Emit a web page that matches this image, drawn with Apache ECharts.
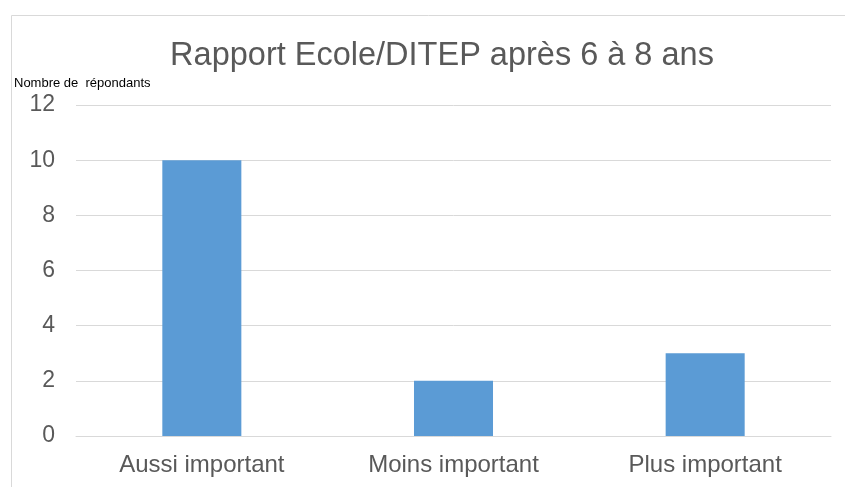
<!DOCTYPE html>
<html>
<head>
<meta charset="utf-8">
<script src="https://cdn.jsdelivr.net/npm/echarts@6/dist/echarts.min.js"></script>
<style>
  html, body { margin: 0; padding: 0; background: #fff; }
  #chart { width: 845px; height: 487px; }
</style>
</head>
<body>
<div id="chart"></div>
<script>
// Data
const categories = ['Aussi important', 'Moins important', 'Plus important']
const respondents = [10, 2, 3]
const titleText = 'Rapport Ecole/DITEP après 6 à 8 ans'
const axisName = 'Nombre de  répondants'

const chart = echarts.init(document.getElementById('chart'))

chart.setOption({
  animation: false,
  textStyle: { fontFamily: '"Liberation Sans", Arial, sans-serif' },
  title: [
    {
      text: titleText,
      left: 437,
      textAlign: 'center',
      top: 35,
      textStyle: { color: '#595959', fontSize: 32.5, fontWeight: 'normal' }
    },
    {
      // y axis name, placed top-left like the original
      text: axisName,
      left: 9,
      top: 72,
      textStyle: { color: '#000', fontSize: 13, fontWeight: 'normal' }
    }
  ],
  graphic: [{
    // chart frame
    type: 'rect',
    shape: { x: 11.5, y: 15.5, width: 900, height: 600 },
    style: { fill: 'none', stroke: '#d9d9d9', lineWidth: 1 },
    silent: true
  }],
  grid: { left: 76, right: 14, top: 105, bottom: 51 },
  xAxis: {
    type: 'category',
    data: categories,
    axisTick: { show: false },
    axisLine: { lineStyle: { color: '#d9d9d9', width: 1 } },
    axisLabel: { color: '#595959', fontSize: 24, margin: 17 }
  },
  yAxis: {
    type: 'value',
    min: 0,
    max: 12,
    interval: 2,
    axisLine: { show: false },
    axisTick: { show: false },
    axisLabel: { color: '#595959', fontSize: 23, margin: 21 },
    splitLine: { lineStyle: { color: '#d9d9d9', width: 1 } }
  },
  series: [{
    type: 'bar',
    data: respondents,
    barWidth: '31.4%',
    itemStyle: { color: '#5b9bd5' }
  }]
})
</script>
</body>
</html>
